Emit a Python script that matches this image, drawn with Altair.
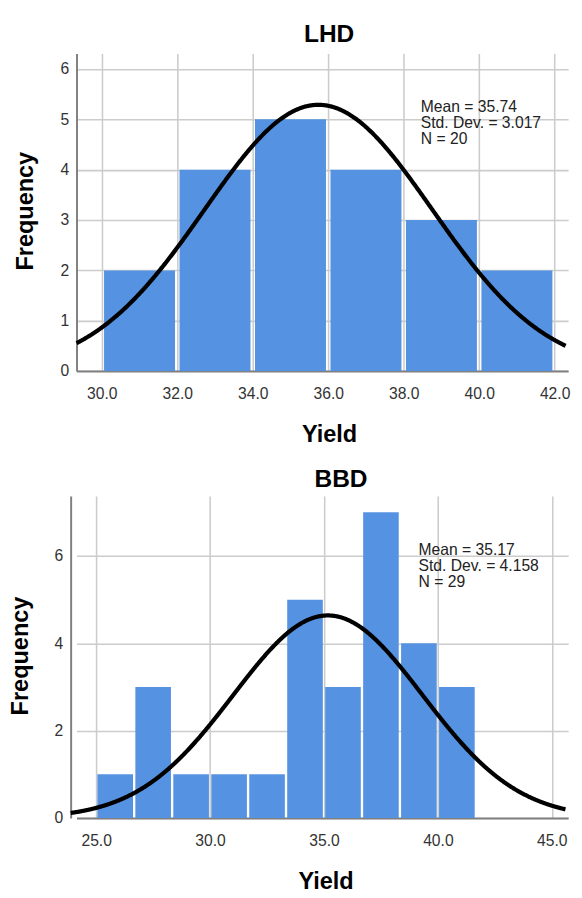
import altair as alt
import pandas as pd

FONT = "Liberation Sans"
BLUE = "#5593e2"

# ---- data ----
panel_titles = ["LHD", "BBD"]
means = [35.74, 35.17]
std_devs = [3.017, 4.158]
ns = [20, 29]

lhd_edges = [30.0, 32.0, 34.0, 36.0, 38.0, 40.0, 42.0]
lhd_counts = [2, 4, 5, 4, 3, 2]

bbd_edges = [25.0, 26.667, 28.333, 30.0, 31.667, 33.333, 35.0, 36.667, 38.333, 40.0, 41.667]
bbd_counts = [1, 3, 1, 1, 1, 5, 3, 7, 4, 3]

lhd_x_ticks = [30.0, 32.0, 34.0, 36.0, 38.0, 40.0, 42.0]
lhd_y_ticks = [0, 1, 2, 3, 4, 5, 6]
bbd_x_ticks = [25.0, 30.0, 35.0, 40.0, 45.0]
bbd_y_ticks = [0, 2, 4, 6]

# axis ranges
lhd_x_domain = [29.33, 42.357]
lhd_y_domain = [0, 6.306]
bbd_x_domain = [24.136, 45.717]
bbd_y_domain = [0, 7.373]
lhd_curve_range = [29.33, 42.29]
bbd_curve_range = [23.88, 45.61]


def panel(i, edges, counts, xticks, yticks, xdom, ydom, crange, width, height,
          inset, title_dx, title_offset, xtitle_x, xtitle_y, y_offset, ytitle_x,
          ytitle_y, stat_x, stat_y):
    mean, sd, n = means[i], std_devs[i], ns[i]
    bw = edges[1] - edges[0]
    bars = pd.DataFrame({"start": edges[:-1], "end": edges[1:], "count": counts})

    x_scale = alt.Scale(domain=xdom, nice=False, zero=False)
    y_scale = alt.Scale(domain=ydom, nice=False, zero=True)
    x_axis = alt.Axis(
        title="Yield", values=xticks, format=".1f", grid=True,
        gridColor="#cccccc", gridWidth=1.6, domainColor="#808080", domainWidth=2,
        ticks=False, tickSize=0, labelFont=FONT, labelFontSize=16, labelColor="#333333",
        labelPadding=15, labelFlush=False, labelOverlap=False,
        titleFont=FONT, titleFontSize=24, titleFontWeight="bold", titleColor="#000000",
        titleBaseline="alphabetic", titleAlign="center", titleX=xtitle_x, titleY=xtitle_y,
    )
    y_axis = alt.Axis(
        title="Frequency", values=yticks, format="d", grid=True, offset=y_offset,
        gridColor="#cccccc", gridWidth=1.6, domainColor="#808080", domainWidth=2,
        ticks=False, tickSize=0, labelFont=FONT, labelFontSize=16, labelColor="#333333",
        labelPadding=8, labelFlush=False, labelOverlap=False, labelBaseline="middle",
        titleFont=FONT, titleFontSize=24, titleFontWeight="bold", titleColor="#000000",
        titleBaseline="alphabetic", titleAlign="center", titleX=ytitle_x, titleY=ytitle_y,
    )

    bar = alt.Chart(bars).mark_bar(
        color=BLUE, xOffset=inset, x2Offset=-inset
    ).encode(
        x=alt.X("start:Q", scale=x_scale, axis=x_axis),
        x2="end:Q",
        y=alt.Y("count:Q", scale=y_scale, axis=y_axis),
        y2=alt.datum(0),
    )

    curve = alt.Chart(alt.sequence(crange[0], crange[1] + 0.001, 0.02, as_="xv")).transform_calculate(
        density=f"{n}*{bw}*exp(-0.5*pow((datum.xv-{mean})/{sd},2))/({sd}*sqrt(2*PI))"
    ).mark_line(color="#000000", strokeWidth=4.3).encode(
        x=alt.X("xv:Q", scale=x_scale, axis=x_axis),
        y=alt.Y("density:Q", scale=y_scale, axis=y_axis),
    )

    stat_lines = [f"Mean = {mean:.2f}", f"Std. Dev. = {sd:.3f}", f"N = {n}"]
    stats = alt.Chart(pd.DataFrame({"k": [0]})).mark_text(
        text=stat_lines, align="left", baseline="alphabetic", font=FONT,
        fontSize=16, lineHeight=16.5, color="#222222",
    ).encode(x=alt.value(stat_x), y=alt.value(stat_y))

    return alt.layer(bar, curve, stats).properties(
        width=width, height=height,
        title=alt.TitleParams(
            text=panel_titles[i], font=FONT, fontSize=25, fontWeight="bold",
            color="#000000", anchor="middle", dx=title_dx, offset=title_offset,
        ),
    )


top = panel(0, lhd_edges, lhd_counts, lhd_x_ticks, lhd_y_ticks, lhd_x_domain, lhd_y_domain,
            lhd_curve_range, 502.2, 324.3, 2.3, 6.9, 7, 258.0, 71.8,
            0, -44.8, 160.5, 351.7, 59.3)
bottom = panel(1, bbd_edges, bbd_counts, bbd_x_ticks, bbd_y_ticks, bbd_x_domain, bbd_y_domain,
               bbd_curve_range, 502.2, 329.0, 1.2, 19.1, 4, 254.4, 71.6,
               6, -44.3, 163.0, 349.4, 60.0)

chart = alt.vconcat(top, bottom, spacing=20.9).properties(
    padding={"left": 0, "top": 5, "right": -1, "bottom": -4}
).configure_view(stroke=None)

chart.save("out.html", embed_options={"renderer": "svg", "actions": False})
